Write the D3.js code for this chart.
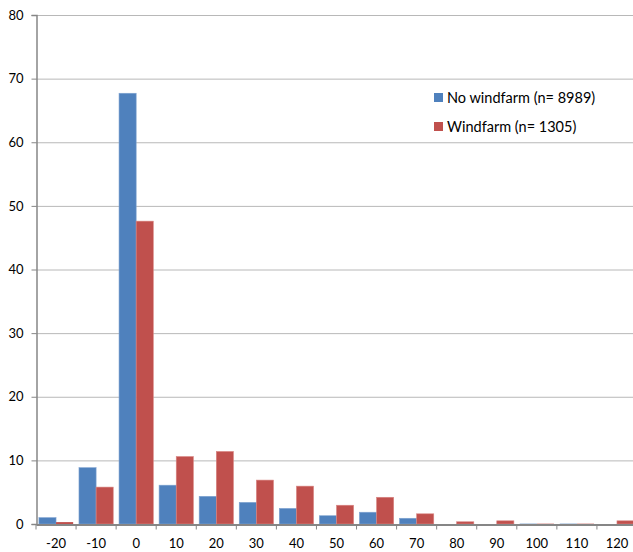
<!DOCTYPE html>
<html>
<head>
<meta charset="utf-8">
<script src="https://cdn.jsdelivr.net/npm/d3@7"></script>
<style>
  body { margin: 0; background: #fff; }
  text { font-family: Lato, "Open Sans", sans-serif; fill: #000; }
</style>
</head>
<body>
<svg width="633" height="552"></svg>
<script>
var categories = ["-20", "-10", "0", "10", "20", "30", "40", "50", "60", "70", "80", "90", "100", "110", "120"];
var noWindfarm = [1.0, 8.85, 67.7, 6.1, 4.35, 3.4, 2.45, 1.3, 1.85, 0.9, 0, 0, 0.05, 0.05, 0];
var windfarm   = [0.3, 5.8, 47.6, 10.6, 11.4, 6.9, 5.95, 2.95, 4.2, 1.6, 0.35, 0.5, 0.05, 0.05, 0.5];
var seriesNames = ["No windfarm (n= 8989)", "Windfarm (n= 1305)"];
var colors = ["#4f81bd", "#c0504d"];
var yTicks = [0, 10, 20, 30, 40, 50, 60, 70, 80];

var svg = d3.select("svg"),
    plotLeft = 36, plotRight = 637, plotTop = 15, plotBottom = 524;

var x0 = d3.scaleBand().domain(categories).range([plotLeft, plotRight]).padding(0);
var x1 = d3.scaleBand().domain([0, 1]).range([0, x0.bandwidth()]).paddingInner(0).paddingOuter(0.17);
var y = d3.scaleLinear().domain([0, 80]).range([plotBottom, plotTop]);

// gridlines
svg.append("g").selectAll("line")
  .data(yTicks.filter(function(d) { return d > 0; }))
  .enter().append("line")
    .attr("x1", plotLeft).attr("x2", 633)
    .attr("y1", function(d) { return y(d) + 0.5; })
    .attr("y2", function(d) { return y(d) + 0.5; })
    .attr("stroke", "#b8b8b8").attr("stroke-width", 1);

// bars
var data = categories.map(function(c, i) { return {cat: c, vals: [noWindfarm[i], windfarm[i]]}; });
var groups = svg.append("g").selectAll("g")
  .data(data)
  .enter().append("g")
    .attr("transform", function(d) { return "translate(" + x0(d.cat) + ",0)"; });

groups.selectAll("rect")
  .data(function(d) { return d.vals.map(function(v, k) { return {k: k, v: v}; }); })
  .enter().append("rect")
    .attr("x", function(d) { return x1(d.k); })
    .attr("width", x1.bandwidth())
    .attr("y", function(d) { return y(d.v); })
    .attr("height", function(d) { return y(0) - y(d.v); })
    .attr("fill", function(d) { return colors[d.k]; })
    .attr("stroke", function(d) { return d.k == 0 ? "#7fa3d1" : "#d98582"; })
    .attr("stroke-width", function(d) { return d.v > 0.3 ? 0.6 : 0; });

// y axis
var yAxis = svg.append("g")
  .attr("transform", "translate(" + (plotLeft + 0.5) + ",0)")
  .call(d3.axisLeft(y).tickValues(yTicks).tickSize(5).tickPadding(8));
yAxis.select(".domain").attr("stroke", "#868686").attr("stroke-width", 1.5);
yAxis.selectAll(".tick line").attr("stroke", "#868686");
yAxis.selectAll("text").style("font-size", "13px").attr("fill", "#000");

// x axis
var xAxis = svg.append("g")
  .attr("transform", "translate(0," + (plotBottom + 0.5) + ")")
  .call(d3.axisBottom(x0).tickSize(0).tickPadding(14));
xAxis.select(".domain").attr("stroke", "#868686").attr("stroke-width", 2);
xAxis.selectAll("text").style("font-size", "13px").attr("fill", "#000");
xAxis.selectAll(".sep")
  .data(categories)
  .enter().append("line")
    .attr("class", "sep")
    .attr("x1", function(d) { return x0(d); })
    .attr("x2", function(d) { return x0(d); })
    .attr("y1", 0).attr("y2", 5)
    .attr("stroke", "#868686");

// legend
var legend = svg.append("g").attr("transform", "translate(434,93)");
var item = legend.selectAll("g")
  .data(seriesNames)
  .enter().append("g")
    .attr("transform", function(d, i) { return "translate(0," + i * 29 + ")"; });
item.append("rect")
  .attr("width", 9).attr("height", 9)
  .attr("fill", function(d, i) { return colors[i]; });
item.append("text")
  .attr("x", 13).attr("y", 5)
  .attr("dy", "0.35em")
  .style("font-size", "14.5px")
  .text(function(d) { return d; });
</script>
</body>
</html>
